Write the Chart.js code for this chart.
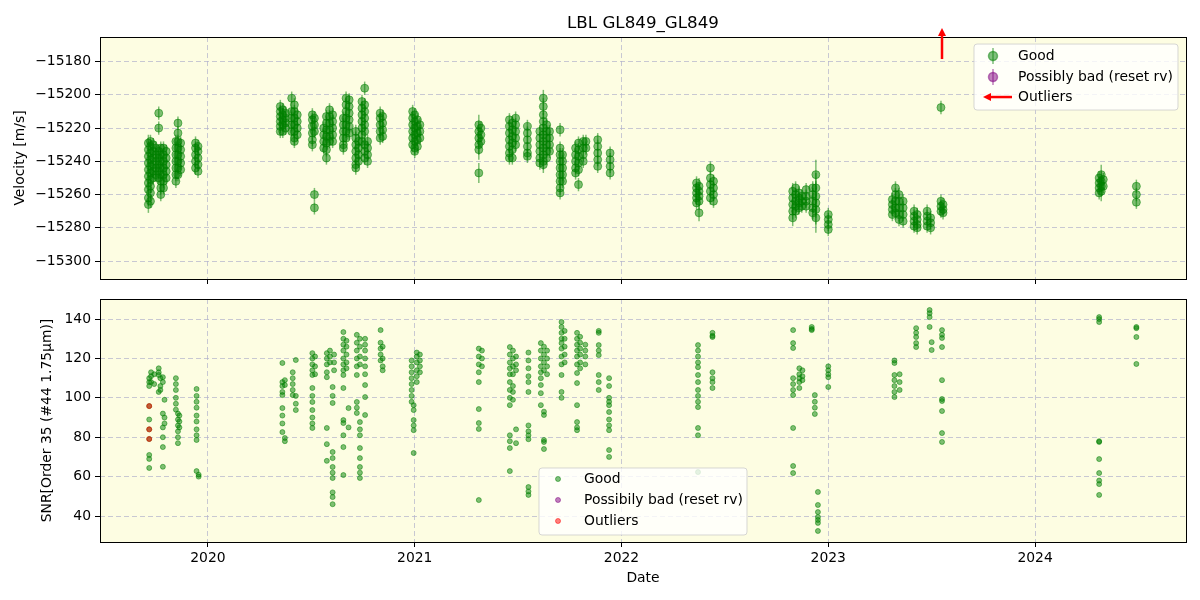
<!DOCTYPE html>
<html>
<head>
<meta charset="utf-8">
<script src="https://cdn.jsdelivr.net/npm/chart.js@4.4.0/dist/chart.umd.min.js"></script>
<style>
  body { margin: 0; background: #fff; }
  #wrap { position: relative; width: 1200px; height: 600px; }
  canvas { position: absolute; left: 0; }
  #rvChart { top: 0; }
  #snrChart { top: 290px; }
</style>
</head>
<body>
<div id="wrap">
  <canvas id="rvChart" width="1200" height="290"></canvas>
  <canvas id="snrChart" width="1200" height="310"></canvas>
</div>
<script>
// axis ranges and ticks
const xMin = 2019.478, xMax = 2024.730;
const yearTicks = [2020, 2021, 2022, 2023, 2024];
const rvMin = -15310.8, rvMax = -15165.2;
const rvTicks = [-15300, -15280, -15260, -15240, -15220, -15200, -15180];
const snrMin = 26.8, snrMax = 150.2;
const snrTicks = [40, 60, 80, 100, 120, 140];

// velocity: one entry per night group (decimal year), values in m/s
const rvEpoch = [2019.712, 2019.722, 2019.735, 2019.748, 2019.762, 2019.772, 2019.785, 2019.798, 2019.845, 2019.855, 2019.868, 2019.940, 2019.952,
  2020.350, 2020.362, 2020.375, 2020.405, 2020.418, 2020.432, 2020.505, 2020.515, 2020.560, 2020.573, 2020.588, 2020.603,
  2020.655, 2020.668, 2020.683, 2020.715, 2020.728, 2020.745, 2020.758, 2020.772, 2020.833, 2020.845, 2020.990, 2021.000, 2021.013, 2021.025,
  2021.310, 2021.320, 2021.458, 2021.472, 2021.488, 2021.545, 2021.605, 2021.622, 2021.638, 2021.652, 2021.703, 2021.715,
  2021.778, 2021.792, 2021.815, 2021.828, 2021.885, 2021.945,
  2022.363, 2022.375, 2022.430, 2022.445,
  2022.828, 2022.842, 2022.858, 2022.872, 2022.893, 2022.925, 2022.940, 2023.000,
  2023.310, 2023.325, 2023.342, 2023.362, 2023.415, 2023.430, 2023.478, 2023.495, 2023.545, 2023.555,
  2024.310, 2024.320, 2024.330, 2024.490];
const rvVel = [
  [-15266, -15262, -15257, -15253, -15249, -15245, -15241, -15237, -15233, -15229],
  [-15264, -15259, -15255, -15251, -15247, -15243, -15239, -15235, -15231, -15228],
  [-15250, -15246, -15242, -15238, -15234, -15230],
  [-15248, -15244, -15240, -15236, -15232],
  [-15211, -15220, -15234, -15238, -15242, -15246, -15250],
  [-15260, -15256, -15252, -15248, -15244, -15240, -15236, -15232],
  [-15256, -15252, -15248, -15244, -15240, -15236, -15232],
  [-15250, -15246, -15242, -15238, -15234],
  [-15252, -15248, -15244, -15240, -15236, -15232, -15228],
  [-15217, -15223, -15228, -15232, -15236, -15240, -15244, -15248],
  [-15245, -15241, -15237, -15233, -15229],
  [-15244, -15240, -15236, -15232, -15229],
  [-15246, -15242, -15238, -15234, -15231],
  [-15222, -15219, -15216, -15213, -15210, -15207],
  [-15222, -15218, -15215, -15212, -15209],
  [-15220, -15217, -15214, -15211],
  [-15202, -15210, -15214, -15218, -15222],
  [-15206, -15210, -15214, -15218, -15222, -15226, -15228],
  [-15212, -15216, -15220, -15224],
  [-15212, -15215, -15219, -15223, -15227, -15230],
  [-15260, -15268, -15214, -15218, -15222],
  [-15220, -15224, -15228, -15232],
  [-15238, -15233, -15229, -15225, -15221, -15217, -15213],
  [-15209, -15213, -15217, -15221, -15225, -15228],
  [-15212, -15216, -15220, -15224, -15228],
  [-15214, -15218, -15222, -15226, -15230, -15232],
  [-15202, -15206, -15210, -15214, -15218, -15222, -15226],
  [-15203, -15207, -15211, -15215, -15219, -15223],
  [-15222, -15226, -15230, -15234, -15238, -15242, -15244],
  [-15228, -15232, -15236, -15240],
  [-15204, -15208, -15212, -15216, -15220, -15224, -15228],
  [-15196, -15206, -15210, -15214, -15218, -15222, -15230, -15234, -15238],
  [-15228, -15232, -15236, -15240],
  [-15211, -15214, -15218, -15222, -15226],
  [-15213, -15217, -15221, -15225],
  [-15210, -15214, -15218, -15222, -15226, -15230],
  [-15212, -15216, -15220, -15224, -15228, -15232, -15234],
  [-15215, -15219, -15223, -15227, -15231],
  [-15218, -15222, -15226],
  [-15247, -15218, -15222, -15226, -15230, -15233],
  [-15220, -15224, -15228],
  [-15215, -15219, -15223, -15227, -15231, -15235, -15238],
  [-15217, -15221, -15225, -15229, -15233, -15238],
  [-15214, -15218, -15222, -15226, -15230],
  [-15219, -15223, -15227, -15231, -15235, -15237],
  [-15222, -15226, -15230, -15234, -15238, -15241],
  [-15202, -15207, -15212, -15216, -15220, -15224, -15228, -15232, -15236, -15240, -15242],
  [-15218, -15222, -15226, -15230, -15234, -15238],
  [-15222, -15226, -15230, -15234],
  [-15221, -15232, -15236, -15240, -15244, -15248, -15252, -15256, -15259],
  [-15236, -15240, -15244, -15248, -15252],
  [-15232, -15236, -15240, -15244, -15247],
  [-15229, -15233, -15237, -15241, -15245, -15254],
  [-15228, -15232, -15236, -15240],
  [-15228, -15232],
  [-15227, -15231, -15235, -15239, -15243],
  [-15235, -15239, -15243, -15247],
  [-15253, -15256, -15259, -15262, -15265],
  [-15255, -15258, -15261, -15264, -15271],
  [-15244, -15250, -15254, -15258, -15262],
  [-15252, -15256, -15260, -15264],
  [-15258, -15262, -15266, -15270, -15274],
  [-15256, -15260, -15264, -15267, -15270],
  [-15259, -15262, -15265, -15268],
  [-15261, -15264, -15267],
  [-15257, -15261, -15264, -15267],
  [-15256, -15260, -15264, -15268, -15271],
  [-15248, -15256, -15261, -15265, -15269, -15274],
  [-15272, -15275, -15278, -15281],
  [-15263, -15266, -15269, -15272],
  [-15256, -15260, -15264, -15268, -15271],
  [-15260, -15264, -15268, -15272, -15275],
  [-15264, -15268, -15272, -15276],
  [-15270, -15273, -15276, -15279],
  [-15272, -15275, -15278, -15280],
  [-15270, -15273, -15276, -15279],
  [-15274, -15277, -15280],
  [-15264, -15267, -15270, -15207.6],
  [-15266, -15269, -15271],
  [-15250, -15253, -15256, -15259],
  [-15248, -15252, -15255, -15258],
  [-15251, -15255],
  [-15255, -15260, -15264.6]
];
const rvErr = [5, 4, 4, 4, 4, 4, 4, 4, 4, 4, 4, 4, 4,
  4, 4, 4, 4, 4, 4, 4, 4, 4, 4, 4, 4,
  4, 4, 4, 4, 4, 4, 4, 4, 4, 4, 4, 4, 4, 4,
  6, 4, 4, 4, 4, 4, 4, 5, 4, 4, 4, 4,
  4, 4, 4, 4, 4, 4,
  4, 5, 4, 4,
  5, 4, 4, 4, 4, 4, 9, 4,
  4, 4, 4, 4, 4, 4, 4, 4, 4, 4,
  4, 6, 4, 4];
// velocity outlier above the plotted range
const rvOutEpoch = [2023.550];

// SNR: one entry per night group (decimal year)
const snrEpoch = [2019.716, 2019.725, 2019.740, 2019.762, 2019.770, 2019.782, 2019.790, 2019.845, 2019.855, 2019.862, 2019.945, 2019.955,
  2020.360, 2020.372, 2020.410, 2020.425, 2020.505, 2020.518, 2020.575, 2020.590, 2020.603, 2020.610, 2020.655, 2020.670,
  2020.680, 2020.720, 2020.735, 2020.760, 2020.835, 2020.845, 2020.985, 2020.995, 2021.010, 2021.025,
  2021.310, 2021.325, 2021.460, 2021.475, 2021.490, 2021.550, 2021.610, 2021.625, 2021.640, 2021.710, 2021.725,
  2021.785, 2021.800, 2021.825, 2021.890, 2021.940,
  2022.370, 2022.440,
  2022.830, 2022.860, 2022.875, 2022.920, 2022.935, 2022.950, 2023.000,
  2023.320, 2023.345, 2023.425, 2023.490, 2023.500, 2023.550,
  2024.310, 2024.490];
const snrVal = [
  [95.8, 89, 84, 79.1, 71, 69, 64.4, 108, 110, 106],
  [113, 111, 108],
  [112, 107],
  [115, 113, 111.6, 103],
  [110, 106, 104],
  [92, 85, 80, 75, 65, 110.5, 108],
  [99, 90, 87],
  [110, 107, 104, 100, 97, 94],
  [92, 89, 86, 83, 80, 77],
  [91, 88, 85],
  [104.5, 101, 98, 95, 91, 88, 84, 81, 78.6, 62.8],
  [61, 60],
  [117.7, 108, 106, 103, 101.4, 94.8, 91, 87, 82.6],
  [109, 106.5, 79.6, 78],
  [113, 110, 107, 104, 101.4],
  [119.2, 101, 97, 93.8],
  [122.7, 120, 117, 114, 111.6, 105, 101, 97.9, 93.8, 90, 87, 84.7],
  [121, 116, 112],
  [122.7, 120, 117, 113, 110.5, 84.7, 76.5, 68],
  [124, 121, 118],
  [105.5, 101, 97.4, 72.5, 69.4, 64.9, 62, 59.3, 52, 49.6, 46],
  [122, 118, 114],
  [133.4, 130, 127, 124, 120, 117, 114, 111.6, 105, 88.7, 87.2, 81, 75, 60.8],
  [129, 126, 122, 118, 115],
  [94.8, 85],
  [132, 128, 124, 120, 116, 111.6, 97.9, 95, 92.3],
  [130, 126, 121, 117, 87.7, 84, 81, 74.5, 69.4, 64.9, 62, 59.3],
  [130, 127, 124, 120, 116, 112, 106.5, 100.4, 91.3],
  [134.4, 128, 125, 122, 119],
  [126, 120, 116, 114],
  [119, 116, 113, 110, 107, 104, 101, 98],
  [96.3, 93.8, 88.7, 86, 83.6, 72],
  [123, 121, 118, 114, 111, 108],
  [122, 119, 116, 113],
  [125, 121, 117, 113, 108, 94.3, 87.2, 84.2, 48.1],
  [124, 120, 116],
  [125.8, 122, 118, 115, 112, 108, 104, 100, 96.3, 81, 78, 74.5, 62.8],
  [124, 120, 116, 112, 106, 103, 99],
  [121, 117, 114, 84, 77],
  [123, 119, 115, 111, 108, 103, 86, 83, 81, 79, 54.7, 52.5, 50.7],
  [127.8, 124, 120, 116, 113, 110, 106.5, 102.4, 96.3],
  [126, 122, 118, 114, 93, 91.3, 78.6, 77.6, 74],
  [124, 120, 116, 112],
  [138.5, 136, 133, 130, 127.8, 125, 121, 117, 111.6, 103, 100],
  [134, 130, 126, 122, 118],
  [133, 130, 127, 124, 121, 117, 112.6, 107.5, 96.3, 87.7, 85, 83.6],
  [131, 128, 125, 122, 118, 115],
  [127, 124, 121, 117],
  [134, 133, 126.8, 124, 121.7, 111.6, 108, 104],
  [110, 106, 100, 98, 96.3, 92.8, 89, 86, 83.6, 73.5, 70],
  [126.8, 124, 121, 118, 115.6, 111.6, 108, 104, 101, 98, 95.3, 84.7, 81, 62.3],
  [133, 131.5, 130.9, 113, 110, 108, 105],
  [134.4, 127.8, 125.3, 110, 107, 104, 101.4, 84.7, 65.4, 61.8],
  [115, 112, 110, 108, 105],
  [114, 111, 109],
  [136, 135, 134.4],
  [101.4, 98, 95, 91.8],
  [52.2, 45.6, 42, 39.5, 38, 36.5, 32.4],
  [116, 114, 112, 110.5, 105.5],
  [119, 117.7, 111.6, 109, 106, 103, 100.4],
  [112, 108, 104],
  [135.4, 133, 130.9, 127.8, 125.8],
  [144.6, 143, 141, 136],
  [128.3, 124.3],
  [134.4, 132, 130.4, 125.8, 109, 99.4, 98.4, 93.3, 82.1, 77.6],
  [141, 140, 138.5, 78, 77.6, 68.9, 61.8, 58, 56.2, 50.7],
  [136, 135.4, 130.9, 117.2]
];
const outEpoch = [2019.716, 2019.716, 2019.716];
const outSnr = [95.8, 84, 79.1];

const GOOD = 'rgba(0,128,0,0.5)';
const BAD = 'rgba(128,0,128,0.5)';
const OUT = 'rgba(255,0,0,0.5)';
const BG = '#fdfde2';
const GRID = 'rgba(176,176,204,0.7)';
const FONT = 'DejaVu Sans';
const FS = 13.9;

Chart.defaults.font.family = FONT;
Chart.defaults.color = '#000';

const rvPoints = [];
rvEpoch.forEach((t, i) => rvVel[i].forEach(v => rvPoints.push({x: t, y: v, e: rvErr[i]})));
const snrPoints = [];
snrEpoch.forEach((t, i) => snrVal[i].forEach(v => snrPoints.push({x: t, y: v})));
const outPoints = outEpoch.map((t, i) => ({x: t, y: outSnr[i]}));

function minus(v) {
  return String(v).replace('-', '\u2212');
}

function xScale(extra, height) {
  return Object.assign({
    type: 'linear', min: xMin, max: xMax,
    afterBuildTicks: s => { s.ticks = yearTicks.map(v => ({value: v})); },
    afterFit: s => { s.height = height; s.paddingLeft = 0; s.paddingRight = 0; },
    grid: { color: GRID, tickColor: '#000', tickLength: 5, lineWidth: 1 },
    border: { display: false, dash: [5, 3] }
  }, extra);
}

function yScale(min, max, ticks, title, titlePad) {
  return {
    min: min, max: max,
    afterBuildTicks: s => { s.ticks = ticks.map(v => ({value: v})); },
    afterFit: s => { s.width = 100; s.paddingTop = 0; s.paddingBottom = 0; },
    ticks: { font: {size: FS}, padding: 4, callback: v => minus(v) },
    grid: { color: GRID, tickColor: '#000', tickLength: 5, lineWidth: 1 },
    border: { display: false, dash: [5, 3] },
    title: { display: true, text: title, font: {size: FS}, padding: {top: titlePad, bottom: 0} }
  };
}

function drawBg(chart) {
  const {ctx, chartArea: a} = chart;
  ctx.save();
  ctx.fillStyle = BG;
  ctx.fillRect(a.left, a.top, a.width, a.height);
  ctx.restore();
}

function drawFrame(chart) {
  const {ctx, chartArea: a} = chart;
  ctx.save();
  ctx.strokeStyle = '#000';
  ctx.lineWidth = 1;
  ctx.strokeRect(Math.round(a.left) + 0.5, Math.round(a.top) + 0.5, Math.round(a.width), Math.round(a.height));
  ctx.restore();
}

function roundBox(ctx, x, y, w, h, r) {
  ctx.beginPath();
  ctx.moveTo(x + r, y);
  ctx.arcTo(x + w, y, x + w, y + h, r);
  ctx.arcTo(x + w, y + h, x, y + h, r);
  ctx.arcTo(x, y + h, x, y, r);
  ctx.arcTo(x, y, x + w, y, r);
  ctx.closePath();
  ctx.fillStyle = 'rgba(255,255,255,0.8)';
  ctx.fill();
  ctx.strokeStyle = 'rgba(204,204,204,0.8)';
  ctx.lineWidth = 1;
  ctx.stroke();
}

function arrow(ctx, x0, y0, x1, y1, head) {
  const ang = Math.atan2(y1 - y0, x1 - x0);
  const bx = x1 - Math.cos(ang) * head, by = y1 - Math.sin(ang) * head;
  ctx.strokeStyle = 'red';
  ctx.fillStyle = 'red';
  ctx.lineWidth = 2.5;
  ctx.beginPath();
  ctx.moveTo(x0, y0);
  ctx.lineTo(bx, by);
  ctx.stroke();
  ctx.beginPath();
  ctx.moveTo(x1, y1);
  ctx.lineTo(bx - Math.sin(ang) * 4, by + Math.cos(ang) * 4);
  ctx.lineTo(bx + Math.sin(ang) * 4, by - Math.cos(ang) * 4);
  ctx.closePath();
  ctx.fill();
}

function legendText(ctx, text, x, y) {
  ctx.fillStyle = '#000';
  ctx.font = FS + 'px "' + FONT + '"';
  ctx.textBaseline = 'middle';
  ctx.textAlign = 'left';
  ctx.fillText(text, x, y);
}

const rvDecor = {
  id: 'rvDecor',
  beforeDraw: drawBg,
  beforeDatasetsDraw(chart) {
    const {ctx, chartArea: a} = chart;
    const xs = chart.scales.x, ys = chart.scales.y;
    ctx.save();
    ctx.beginPath();
    ctx.rect(a.left, a.top, a.width, a.height);
    ctx.clip();
    ctx.strokeStyle = GOOD;
    ctx.lineWidth = 1.5;
    rvPoints.forEach(p => {
      const x = xs.getPixelForValue(p.x);
      ctx.beginPath();
      ctx.moveTo(x, ys.getPixelForValue(p.y - p.e));
      ctx.lineTo(x, ys.getPixelForValue(p.y + p.e));
      ctx.stroke();
    });
    ctx.restore();
  },
  afterDraw(chart) {
    drawFrame(chart);
    const {ctx, chartArea: a} = chart;
    ctx.save();
    // legend, upper right
    const w = 204, h = 66;
    const lx = a.right - 8 - w, ly = a.top + 7;
    roundBox(ctx, lx, ly, w, h, 3);
    const rows = [ly + 12, ly + 33, ly + 53];
    [GOOD, BAD].forEach((c, i) => {
      ctx.strokeStyle = c;
      ctx.lineWidth = 1.5;
      ctx.beginPath();
      ctx.moveTo(lx + 19, rows[i] - 8);
      ctx.lineTo(lx + 19, rows[i] + 8);
      ctx.stroke();
      ctx.fillStyle = c;
      ctx.beginPath();
      ctx.arc(lx + 19, rows[i], 4.5, 0, Math.PI * 2);
      ctx.fill();
      ctx.stroke();
    });
    arrow(ctx, lx + 38, rows[2], lx + 9, rows[2], 8);
    legendText(ctx, 'Good', lx + 44, rows[0]);
    legendText(ctx, 'Possibly bad (reset rv)', lx + 44, rows[1]);
    legendText(ctx, 'Outliers', lx + 44, rows[2]);
    // outliers above the range
    rvOutEpoch.forEach(t => {
      const x = chart.scales.x.getPixelForValue(t);
      arrow(ctx, x, a.top + 22, x, a.top - 9, 8);
    });
    ctx.restore();
  }
};

const snrDecor = {
  id: 'snrDecor',
  beforeDraw: drawBg,
  afterDraw(chart) {
    drawFrame(chart);
    const {ctx, chartArea: a} = chart;
    ctx.save();
    // legend, lower center
    const w = 208, h = 67;
    const lx = (a.left + a.right) / 2 - w / 2, ly = a.bottom - 7 - h;
    roundBox(ctx, lx, ly, w, h, 3);
    const rows = [ly + 11, ly + 32, ly + 53];
    [GOOD, BAD, OUT].forEach((c, i) => {
      ctx.fillStyle = c;
      ctx.strokeStyle = c;
      ctx.lineWidth = 1;
      ctx.beginPath();
      ctx.arc(lx + 19, rows[i], 2.5, 0, Math.PI * 2);
      ctx.fill();
      ctx.stroke();
    });
    legendText(ctx, 'Good', lx + 45, rows[0]);
    legendText(ctx, 'Possibily bad (reset rv)', lx + 45, rows[1]);
    legendText(ctx, 'Outliers', lx + 45, rows[2]);
    ctx.restore();
  }
};

new Chart(document.getElementById('rvChart'), {
  type: 'scatter',
  data: {
    datasets: [{
      data: rvPoints, backgroundColor: GOOD, borderColor: GOOD,
      pointRadius: 4, borderWidth: 1
    }]
  },
  options: {
    animation: false,
    responsive: false,
    layout: { padding: {left: 0, right: 14, top: 0, bottom: 0} },
    plugins: {
      legend: { display: false },
      tooltip: { enabled: false },
      title: {
        display: true, text: 'LBL GL849_GL849', fullSize: false, color: '#000',
        font: {size: 16.7, weight: 'normal'}, padding: {top: 14, bottom: 3}
      }
    },
    scales: {
      x: xScale({ ticks: {display: false} }, 11),
      y: yScale(rvMin, rvMax, rvTicks, 'Velocity [m/s]', 12)
    }
  },
  plugins: [rvDecor]
});

new Chart(document.getElementById('snrChart'), {
  type: 'scatter',
  data: {
    datasets: [
      { data: outPoints, backgroundColor: OUT, borderColor: OUT, pointRadius: 2.5, borderWidth: 1 },
      { data: snrPoints, backgroundColor: GOOD, borderColor: GOOD, pointRadius: 2.5, borderWidth: 1 }
    ]
  },
  options: {
    animation: false,
    responsive: false,
    layout: { padding: {left: 0, right: 14, top: 9, bottom: 0} },
    plugins: {
      legend: { display: false },
      tooltip: { enabled: false }
    },
    scales: {
      x: xScale({
        ticks: { font: {size: FS}, padding: 3, callback: v => String(v) },
        title: { display: true, text: 'Date', font: {size: FS}, padding: {top: 0, bottom: 13} }
      }, 58),
      y: yScale(snrMin, snrMax, snrTicks, 'SNR[Order 35 (#44 1.75\u03bcm)]', 39)
    }
  },
  plugins: [snrDecor]
});
</script>
</body>
</html>
